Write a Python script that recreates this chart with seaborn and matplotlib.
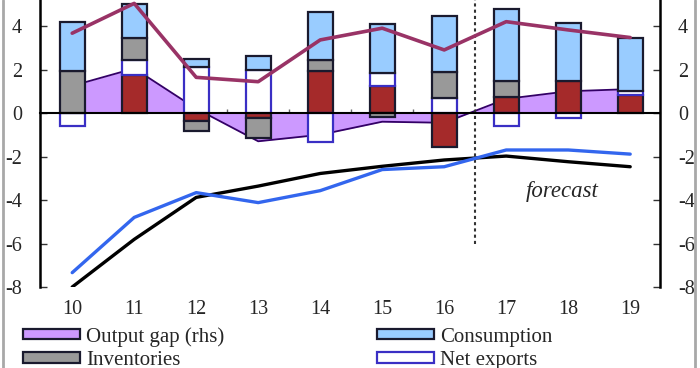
import matplotlib.pyplot as plt
import numpy as np
import seaborn as sns
from matplotlib.lines import Line2D
from matplotlib.patches import Patch

years = [10, 11, 12, 13, 14, 15, 16, 17, 18, 19]
year_labels = ["10", "11", "12", "13", "14", "15", "16", "17", "18", "19"]

# contributions, stacked in this order
investment = [0.0, 1.76, -0.35, -0.25, 1.93, 1.24, -1.55, 0.75, 1.47, 0.82]
net_exports = [-0.6, 0.7, 2.1, 1.98, -1.32, 0.61, 0.68, -0.6, -0.24, 0.2]
inventories = [1.95, 1.0, -0.5, -0.9, 0.5, -0.17, 1.22, 0.72, 0.0, 0.0]
consumption = [2.25, 1.57, 0.4, 0.64, 2.2, 2.23, 2.58, 3.3, 2.65, 2.45]

output_gap = [1.25, 2.05, 0.2, -1.3, -1.0, -0.4, -0.45, 0.65, 1.0, 1.1]
gdp_growth = [3.67, 5.04, 1.64, 1.44, 3.36, 3.9, 2.9, 4.2, 3.82, 3.47]
black_line = [-8.0, -5.81, -3.88, -3.36, -2.78, -2.45, -2.16, -1.98, -2.24, -2.47]
blue_line = [-7.34, -4.8, -3.66, -4.12, -3.57, -2.6, -2.47, -1.7, -1.7, -1.89]

forecast_start = 16.5

colors = {
    "investment": "#a52a2a",
    "net_exports": "#ffffff",
    "inventories": "#999999",
    "consumption": "#99ccff",
    "output_gap": "#cc99ff",
}
edges = {
    "investment": "#1a1a2e",
    "net_exports": "#3a2fc4",
    "inventories": "#1a1a2e",
    "consumption": "#1a1a2e",
}

sns.set_theme(style="white")
plt.rcParams["font.family"] = ["Liberation Serif", "DejaVu Serif"]

fig = plt.figure(figsize=(7, 3.68), dpi=100)
ax = fig.add_axes([0.0571, 0.2201, 0.8857, 0.8274])
ax.set_xlim(9.48, 19.48)
ax.set_ylim(-8, 6)

# output gap area behind the bars
ax.fill_between(years, 0, output_gap, color=colors["output_gap"], lw=0, zorder=1)
sns.lineplot(x=years, y=output_gap, ax=ax, color="#330066", linewidth=1.3, zorder=1.5, legend=False)

# stacked bars, positives up and negatives down
pos_base = np.zeros(len(years))
neg_base = np.zeros(len(years))
series = [("investment", investment), ("net_exports", net_exports),
          ("inventories", inventories), ("consumption", consumption)]
x = np.array(years, dtype=float)
for name, vals in series:
    vals = np.array(vals)
    bottom = np.where(vals >= 0, pos_base, neg_base)
    mask = vals != 0
    ax.bar(x[mask], vals[mask], width=0.4, bottom=bottom[mask], color=colors[name],
           edgecolor=edges[name], linewidth=1.6, zorder=3)
    pos_base = pos_base + np.where(vals > 0, vals, 0)
    neg_base = neg_base + np.where(vals < 0, vals, 0)

sns.lineplot(x=years, y=gdp_growth, ax=ax, color="#993366", linewidth=2.6, zorder=4, legend=False)
sns.lineplot(x=years, y=black_line, ax=ax, color="black", linewidth=2.4, zorder=4, legend=False)
sns.lineplot(x=years, y=blue_line, ax=ax, color="#3366ee", linewidth=2.4, zorder=4, legend=False)

ax.vlines(forecast_start, -6, 6, colors="#333333", linestyles=(0, (1.5, 1.5)), linewidth=1.5, zorder=2)
ax.text(17.9, -3.6, "forecast", style="italic", fontsize=16.5, ha="center", va="center")

# spines: left/right full height, top spine used as the zero line
for side in ["left", "right"]:
    ax.spines[side].set_color("black")
    ax.spines[side].set_linewidth(1.8)
ax.spines["bottom"].set_visible(False)
ax.spines["top"].set_position(("data", 0))
ax.spines["top"].set_color("black")
ax.spines["top"].set_linewidth(1.5)
ax.spines["top"].set_zorder(5)

ax.set_yticks([-8, -6, -4, -2, 0, 2, 4])
ax.set_yticklabels(["-8", "-6", "-4", "-2", "0", "2", "4"])
ax.tick_params(axis="y", direction="in", length=5, width=1, color="#333333",
               left=True, right=True, labelleft=True, labelright=True, pad=13, labelsize=14.5)

ax.set_xticks([y + 0.5 for y in years[:-1]])
ax.set_xticks(years, labels=year_labels, minor=True)
ax.tick_params(axis="x", which="major", top=True, bottom=False, labeltop=False, labelbottom=False,
               direction="out", length=3, width=1, color="#666666")
ax.tick_params(axis="x", which="minor", top=False, bottom=True, length=0,
               labelbottom=True, labelsize=14.5, pad=9.5)
ax.grid(False)

handles = [
    Patch(facecolor=colors["output_gap"], edgecolor="#1a1a2e", linewidth=1.6, label="Output gap (rhs)"),
    Patch(facecolor=colors["inventories"], edgecolor="#1a1a2e", linewidth=1.6, label="Inventories"),
    Patch(facecolor=colors["investment"], edgecolor="#1a1a2e", linewidth=1.6, label="Investment"),
    Patch(facecolor=colors["consumption"], edgecolor="#1a1a2e", linewidth=1.6, label="Consumption"),
    Patch(facecolor=colors["net_exports"], edgecolor=edges["net_exports"], linewidth=1.6, label="Net exports"),
    Line2D([], [], color="#993366", linewidth=2.6, label="GDP growth"),
]
fig.legend(handles=handles, ncol=2, loc="upper left", bbox_to_anchor=(0.033, 0.112),
           frameon=False, fontsize=15, handlelength=2.74, handleheight=0.42, handletextpad=0.3,
           columnspacing=7.3, labelspacing=0.2, borderpad=0, borderaxespad=0)

# grey frame edges of the source image
fig.add_artist(Line2D([0.004, 0.004], [0, 1], transform=fig.transFigure, color="#a8a8a8", linewidth=2))
fig.add_artist(Line2D([0.993, 0.993], [0, 1], transform=fig.transFigure, color="#a8a8a8", linewidth=2))

fig.savefig("out.png", dpi=100)
